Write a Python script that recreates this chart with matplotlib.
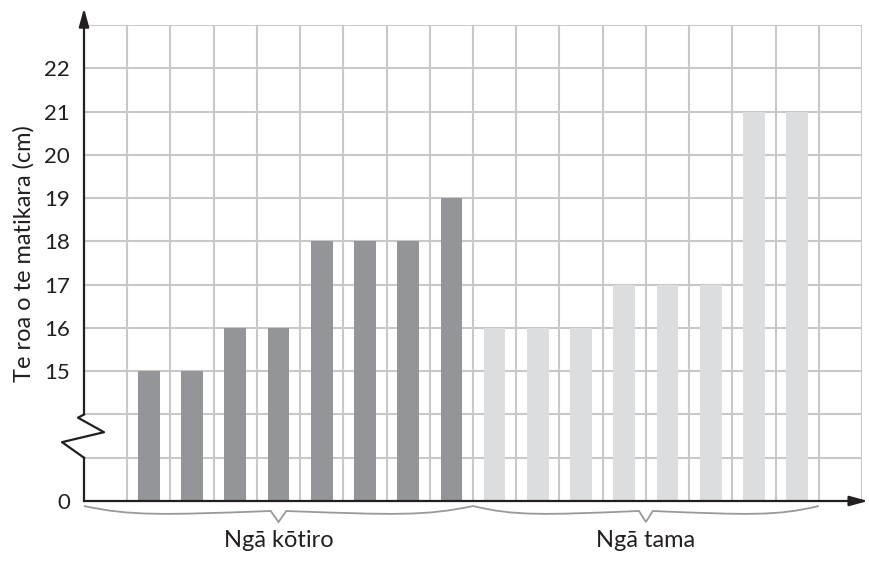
#Bar chart of finger lengths (girls and boys) with a broken y axis

#import modules
import numpy as np
import matplotlib.pyplot as plt
from matplotlib.path import Path
from matplotlib.patches import PathPatch
from matplotlib.transforms import blended_transform_factory

plt.rcParams['font.family'] = ['Lato', 'DejaVu Sans']

#data
girls = [15, 15, 16, 16, 18, 18, 18, 19]
boys = [16, 16, 16, 17, 17, 17, 21, 21]
group_labels = ["Ngā kōtiro", "Ngā tama"]
tick_values = [0, 15, 16, 17, 18, 19, 20, 21, 22]
ylabel = "Te roa o te matikara (cm)"

#the axis is broken: 15 sits on the 3rd grid line, so 12 cm are hidden
hidden = 12
def to_axis(v):
    return v - hidden if v > 0 else 0

dark = "#939598"
light = "#dcdddf"
grid = "#c8c8c8"
ink = "#231f20"

fig = plt.figure(figsize=(8.69, 5.61), dpi=100)
ax = fig.add_axes([84/869, 60/561, 778/869, 476/561])

n_cols = 18
n_rows = 11
ax.set_xlim(0, n_cols)
ax.set_ylim(0, n_rows)

#grid
for gx in range(1, n_cols + 1):
    ax.axvline(gx, color=grid, lw=1.5, zorder=1)
for gy in range(1, n_rows + 1):
    ax.axhline(gy, color=grid, lw=1.5, zorder=1)

#bars
xg = np.arange(len(girls)) + 1.5
xb = np.arange(len(boys)) + 1.5 + len(girls)
ax.bar(xg, [to_axis(v) for v in girls], width=0.5, color=dark, zorder=2)
ax.bar(xb, [to_axis(v) for v in boys], width=0.5, color=light, zorder=2)

#ticks
ax.set_yticks([to_axis(v) for v in tick_values])
ax.set_yticklabels([str(v) for v in tick_values], fontsize=16, color=ink)
ax.tick_params(axis='y', length=0, pad=10)
ax.set_xticks([])
for s in ax.spines.values():
    s.set_visible(False)

#axes with arrows and the zigzag break
ax.plot([0, 0], [0, 1], color=ink, lw=1.6, clip_on=False, zorder=5)
px = 1/43.22
ax.plot([0, -22*px, 20*px, -6*px, 0], [1, 1.36, 1.59, 1.925, 2],
        color=ink, lw=1.6, clip_on=False, zorder=5)
ax.annotate('', xy=(0, 11.39), xytext=(0, 2),
            arrowprops=dict(arrowstyle='-|>,head_length=1.1,head_width=0.3',
                            lw=1.6, color=ink, shrinkA=0, shrinkB=0),
            annotation_clip=False, zorder=5)
ax.annotate('', xy=(18.14, 0), xytext=(0, 0),
            arrowprops=dict(arrowstyle='-|>,head_length=1.1,head_width=0.3',
                            lw=1.6, color=ink, shrinkA=0, shrinkB=0),
            annotation_clip=False, zorder=5)

#braces under the groups
trans = blended_transform_factory(ax.transData, ax.transAxes)
py = 1/476
def brace(x0, x1):
    xm = (x0 + x1)/2
    w = x1 - x0
    verts = [(x0, -5*py),
             (x0 + 0.12*w, -15*py), (xm - 0.3*w, -14*py), (xm - 0.02*w, -10*py),
             (xm, -21*py),
             (xm + 0.02*w, -10*py),
             (xm + 0.3*w, -14*py), (x1 - 0.12*w, -15*py), (x1, -5*py)]
    codes = [Path.MOVETO, Path.CURVE4, Path.CURVE4, Path.CURVE4,
             Path.LINETO, Path.LINETO, Path.CURVE4, Path.CURVE4, Path.CURVE4]
    ax.add_patch(PathPatch(Path(verts, codes), transform=trans, fill=False,
                           edgecolor="#999999", lw=1.3, clip_on=False))
    return xm

m1 = brace(0, len(girls) + 1)
m2 = brace(len(girls) + 1, len(girls) + len(boys) + 1)
ax.text(m1, -46*py, group_labels[0], transform=trans, ha='center', va='baseline',
        fontsize=17, color=ink)
ax.text(m2, -46*py, group_labels[1], transform=trans, ha='center', va='baseline',
        fontsize=17, color=ink)

#y label
fig.text(24/869, 1 - 254/561, ylabel, rotation=90, rotation_mode='anchor',
         ha='center', va='center', fontsize=17, color=ink)

plt.savefig("out.png", dpi=100)
